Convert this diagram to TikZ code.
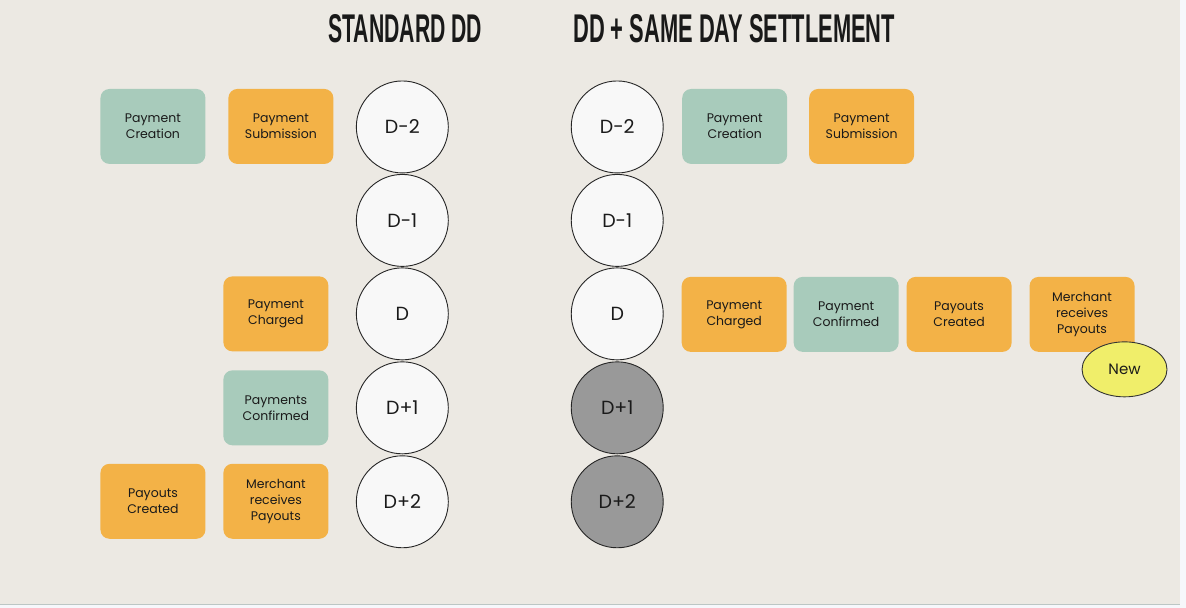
\documentclass[tikz,border=0pt]{standalone}
\usepackage{fontspec}
\setmainfont{Poppins}
\newfontfamily\titlefont{Liberation Sans}
\usetikzlibrary{shapes.geometric}
\definecolor{bgc}{HTML}{ECE9E3}
\definecolor{stripc}{HTML}{F6F7FB}
\definecolor{linec}{HTML}{BCC6C4}
\definecolor{greenc}{HTML}{A8CBBB}
\definecolor{orangec}{HTML}{F3B247}
\definecolor{dayc}{HTML}{F8F8F8}
\definecolor{greyc}{HTML}{999999}
\definecolor{newc}{HTML}{F0EE6A}
\definecolor{txtc}{HTML}{1A1A1A}
\begin{document}
\begin{tikzpicture}[x=1pt,y=-1pt,
  evt/.style={rounded corners=9pt, minimum width=105pt, minimum height=75pt, inner sep=0pt, align=center, text=txtc, font=\fontsize{12.5}{16}\selectfont},
  greenbox/.style={evt, fill=greenc},
  orangebox/.style={evt, fill=orangec},
  day/.style={circle, draw=black!85, line width=0.9pt, fill=dayc, minimum size=92pt, inner sep=0pt, text=txtc, font=\fontsize{19}{22}\selectfont},
  pastday/.style={day, fill=greyc},
  newtag/.style={ellipse, draw=black!80, line width=0.9pt, fill=newc, minimum width=85pt, minimum height=55pt, inner sep=0pt, text=txtc, font=\fontsize{15}{18}\selectfont},
  title/.style={inner sep=0pt, text=black!90}
]
\fill[stripc] (0,0) rectangle (1186,608);
\fill[bgc] (0,0) rectangle (1179.5,604);
\draw[linec, line width=1pt] (0,604.5) -- (1179.5,604.5);

% titles
\node[title] (t1) at (405,29) {\resizebox{154pt}{28pt}{\titlefont\bfseries STANDARD DD}};
\node[title] (t2) at (734,29) {\resizebox{322pt}{28pt}{\titlefont\bfseries DD + SAME DAY SETTLEMENT}};

% standard DD days
\node[day] (l1) at (402,127) {D-2};
\node[day] (l2) at (402,220.5) {D-1};
\node[day] (l3) at (402,314) {D};
\node[day] (l4) at (402,408) {D+1};
\node[day] (l5) at (402,502) {D+2};

% standard DD events
\node[greenbox] (lpc) at (152.5,126.5) {Payment\\Creation};
\node[orangebox] (lps) at (280.5,126.5) {Payment\\Submission};
\node[orangebox] (lch) at (275.5,314) {Payment\\Charged};
\node[greenbox] (lcf) at (275.5,408) {Payments\\Confirmed};
\node[orangebox] (lpo) at (152.5,501.5) {Payouts\\Created};
\node[orangebox] (lmr) at (275.5,501.5) {Merchant\\receives\\Payouts};

% same day settlement days
\node[day] (r1) at (617,127) {D-2};
\node[day] (r2) at (617,220.5) {D-1};
\node[day] (r3) at (617,314) {D};
\node[pastday] (r4) at (617,408) {D+1};
\node[pastday] (r5) at (617,502) {D+2};

% same day settlement events
\node[greenbox] (rpc) at (734.5,126.5) {Payment\\Creation};
\node[orangebox] (rps) at (861.5,126.5) {Payment\\Submission};
\node[orangebox] (rch) at (734,314.5) {Payment\\Charged};
\node[greenbox] (rcf) at (846,314.5) {Payment\\Confirmed};
\node[orangebox] (rpo) at (959,314.5) {Payouts\\Created};
\node[orangebox] (rmr) at (1082,314.5) {Merchant\\receives\\Payouts};
\node[newtag] (new) at (1124.5,369.5) {New};
\end{tikzpicture}
\end{document}
